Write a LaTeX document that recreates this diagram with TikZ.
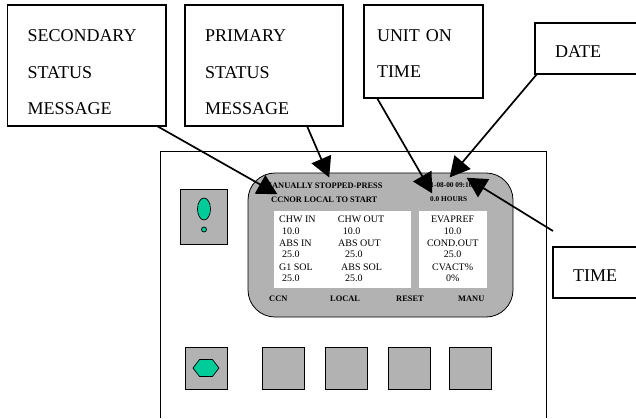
\documentclass[tikz,border=0pt]{standalone}
\usepackage{fontspec}
\setmainfont{Liberation Serif}
\usetikzlibrary{arrows.meta}
\usetikzlibrary{shapes.geometric}
\definecolor{screengray}{HTML}{B2B2B2}
\definecolor{ledgreen}{HTML}{00CC99}
\tikzset{
    callout/.style={draw, line width=1.3pt, fill=white, anchor=north west, align=left,
        inner xsep=20pt, inner ysep=0pt, outer sep=0pt,
        font=\fontsize{18}{36.5}\selectfont},
    pointer/.style={line width=1.7pt, -{Triangle[length=20pt, width=21pt]}, shorten >=-0.5pt},
    softbutton/.style={draw, line width=0.7pt, fill=screengray, anchor=north west, outer sep=0pt,
        minimum width=42pt, minimum height=42pt},
    datatext/.style={anchor=base west, inner sep=0pt, font=\fontsize{10}{12}\selectfont},
    datacenter/.style={anchor=base, inner sep=0pt, font=\fontsize{10}{12}\selectfont},
    statustext/.style={anchor=base west, inner sep=0pt, font=\fontsize{8.4}{10}\selectfont\bfseries},
    clocktext/.style={anchor=base west, inner sep=0pt, font=\fontsize{7.3}{8}\selectfont\bfseries},
}
\begin{document}
\begin{tikzpicture}[x=1pt, y=-1pt]

    \useasboundingbox (0,0) rectangle (636,418);

    \draw[line width=0.7pt] (160,418) -- (160,151) -- (546,151) -- (546,418);
    \draw[line width=0.8pt, fill=screengray, rounded corners=27pt] (248,173) rectangle (513,317);
    \fill[white] (274,211) rectangle (411,288);
    \fill[white] (419,211) rectangle (487,288);

    \node[statustext] (msgprimary) at (264,188) {MANUALLY STOPPED-PRESS};
    \node[statustext] (msgsecondary) at (271,202.7) {CCNOR LOCAL TO START};
    \node[clocktext] (clockdate) at (427,187.5) {11-08-00 09:10};
    \node[clocktext] (clockhours) at (430,201) {0.0 HOURS};

    \node[datatext] (chwin) at (279,222) {CHW IN};
    \node[datatext] (chwinval) at (282,234.7) {10.0};
    \node[datatext] (absin) at (279,246.7) {ABS IN};
    \node[datatext] (absinval) at (282,257.7) {25.0};
    \node[datatext] (gsol) at (279,270) {G1 SOL};
    \node[datatext] (gsolval) at (282,281.7) {25.0};

    \node[datatext] (chwout) at (337.7,222) {CHW OUT};
    \node[datatext] (chwoutval) at (342.7,234.7) {10.0};
    \node[datatext] (absout) at (338,246.7) {ABS OUT};
    \node[datatext] (absoutval) at (345,257.7) {25.0};
    \node[datatext] (abssol) at (341,270) {ABS SOL};
    \node[datatext] (abssolval) at (345,281.7) {25.0};

    \node[datacenter] (evapref) at (452.7,222) {EVAPREF};
    \node[datacenter] (evaprefval) at (452.7,234.7) {10.0};
    \node[datacenter] (condout) at (452.7,246.7) {COND.OUT};
    \node[datacenter] (condoutval) at (452.7,257.7) {25.0};
    \node[datacenter] (cvact) at (452.7,270) {CVACT\%};
    \node[datacenter] (cvactval) at (452.7,281.7) {0\%};

    \node[statustext] (keyccn) at (269,301.7) {CCN};
    \node[statustext] (keylocal) at (330,301.7) {LOCAL};
    \node[statustext] (keyreset) at (396,301.7) {RESET};
    \node[statustext] (keymanu) at (458,301.7) {MANU};

    \node[softbutton, minimum width=47pt, minimum height=55pt] (indicator) at (180,189) {};
    \node[draw, fill=ledgreen, ellipse, line width=0.7pt, minimum width=13pt, minimum height=22pt, inner sep=0pt] (ledlarge) at (204,209) {};
    \node[draw, fill=ledgreen, circle, line width=0.7pt, minimum size=5pt, inner sep=0pt] (ledsmall) at (204,229.5) {};

    \node[softbutton] (btnone) at (185,347) {};
    \node[draw, fill=ledgreen, regular polygon, regular polygon sides=6, line width=0.7pt, inner sep=0pt,
        minimum size=26pt, yscale=0.75] (ledhex) at (btnone.center) {};
    \node[softbutton] (btntwo) at (262,347) {};
    \node[softbutton] (btnthree) at (325,347) {};
    \node[softbutton] (btnfour) at (388,347) {};
    \node[softbutton] (btnfive) at (449,347) {};

    \node[callout, text width=118.5pt, text height=36.5pt, text depth=84.5pt] (secondary) at (7.5,5) {SECONDARY\\STATUS\\MESSAGE};
    \node[callout, text width=118pt, text height=36.5pt, text depth=84.5pt] (primary) at (185,5) {PRIMARY\\STATUS\\MESSAGE};
    \node[callout, inner xsep=13pt, text width=93pt, text height=36pt, text depth=57pt] (uniton) at (364,5) {UNIT ON\\TIME};
    \node[callout, text width=80pt, text height=34pt, text depth=17pt] (date) at (535,23) {DATE};
    \node[callout, text width=80pt, text height=34pt, text depth=17pt] (time) at (553,247) {TIME};

    \coordinate (tipsecondary) at (277,194);
    \coordinate (tipprimary) at (329,177);
    \coordinate (tipuniton) at (432,193);
    \coordinate (tipdate) at (450,177);
    \coordinate (tiptime) at (467,178);

    \draw[pointer] ([xshift=-9pt]secondary.south east) -- (tipsecondary);
    \draw[pointer] ([xshift=-36pt]primary.south east) -- (tipprimary);
    \draw[pointer] ([xshift=13pt]uniton.south west) -- (tipuniton);
    \draw[pointer] ([xshift=2pt]date.south west) -- (tipdate);
    \draw[pointer] ([yshift=16pt]time.north west) -- (tiptime);

\end{tikzpicture}
\end{document}
